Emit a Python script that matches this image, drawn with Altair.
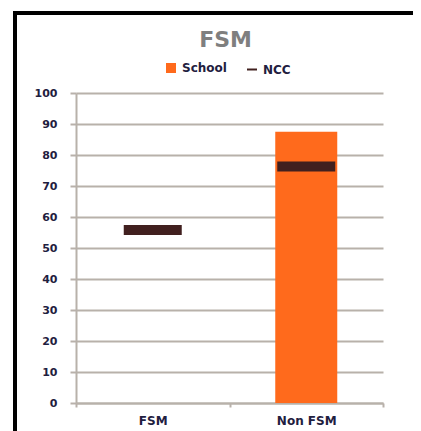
import altair as alt
import pandas as pd

categories = ["FSM", "Non FSM"]
school_values = [0, 87.5]
ncc_values = [55.8, 76.3]
series_names = ["School", "NCC"]
y_ticks = [0, 10, 20, 30, 40, 50, 60, 70, 80, 90, 100]

ORANGE = "#ff6a1c"
DARK = "#41201f"
GRID = "#b8b1aa"
LABEL = "#1f2040"
FONT = "DejaVu Sans"

school_df = pd.DataFrame({"Category": categories, "Value": school_values, "Series": "School"})
ncc_df = pd.DataFrame({"Category": categories, "Value": ncc_values, "Series": "NCC"})

color = alt.Color(
    "Series:N",
    scale=alt.Scale(domain=series_names, range=[ORANGE, DARK]),
    legend=alt.Legend(
        title=None,
        orient="none",
        legendX=89,
        legendY=-31,
        direction="horizontal",
        labelFont=FONT,
        labelFontWeight="bold",
        labelFontSize=12,
        labelColor=LABEL,
        symbolSize=100,
        symbolType={"expr": "datum.value == 'NCC' ? 'stroke' : 'square'"},
        symbolStrokeColor={"expr": "datum.value == 'NCC' ? '#41201f' : 'transparent'"},
        symbolStrokeWidth=2,
        columnPadding=16,
        labelOffset=5,
    ),
)

x_enc = alt.X(
    "Category:N",
    sort=categories,
    scale=alt.Scale(domain=categories, paddingInner=0, paddingOuter=0),
    axis=alt.Axis(
        title=None,
        labelAngle=0,
        labelFont=FONT,
        labelFontWeight="bold",
        labelFontSize=12,
        labelColor=LABEL,
        labelPadding=8,
        tickBand="extent",
        tickSize=4,
        tickColor=GRID,
        tickWidth=2,
        domainColor=GRID,
        domainWidth=2,
        grid=False,
    ),
)

y_enc = alt.Y(
    "Value:Q",
    scale=alt.Scale(domain=[0, 100], nice=False),
    axis=alt.Axis(
        title=None,
        values=y_ticks,
        labelFont=FONT,
        labelFontWeight="bold",
        labelFontSize=11,
        labelColor=LABEL,
        labelPadding=13,
        tickSize=6,
        tickColor=GRID,
        tickWidth=2,
        domainColor=GRID,
        domainWidth=2,
        grid=True,
        gridColor=GRID,
        gridWidth=2,
    ),
)

bars = alt.Chart(school_df).mark_bar(size=62).encode(x=x_enc, y=y_enc, color=color)
ticks = alt.Chart(ncc_df).mark_tick(size=58, thickness=10, opacity=1).encode(x=x_enc, y=y_enc, color=color)

frame_data = alt.Data(values=[{}])
border_left = alt.Chart(frame_data).mark_rule(color="#000000", strokeWidth=4, clip=False).encode(
    x=alt.value(-61), y=alt.value(-82), y2=alt.value(1000)
)
border_top = alt.Chart(frame_data).mark_rule(color="#000000", strokeWidth=4, clip=False).encode(
    y=alt.value(-80), x=alt.value(-63), x2=alt.value(1000)
)

chart = alt.layer(bars, ticks, border_left, border_top).properties(
    width=307,
    height=310,
    autosize=alt.AutoSizeParams(type="none"),
    padding={"left": 68, "top": 85, "right": 30, "bottom": 30},
    title=alt.Title(
        "FSM",
        font=FONT,
        fontSize=22,
        fontWeight="bold",
        color="#7f7f7f",
        anchor="middle",
        offset=-43,
        dx=-4,
    ),
).configure_view(stroke=None)

chart.save("out.html", embed_options={"renderer": "svg", "actions": False})
